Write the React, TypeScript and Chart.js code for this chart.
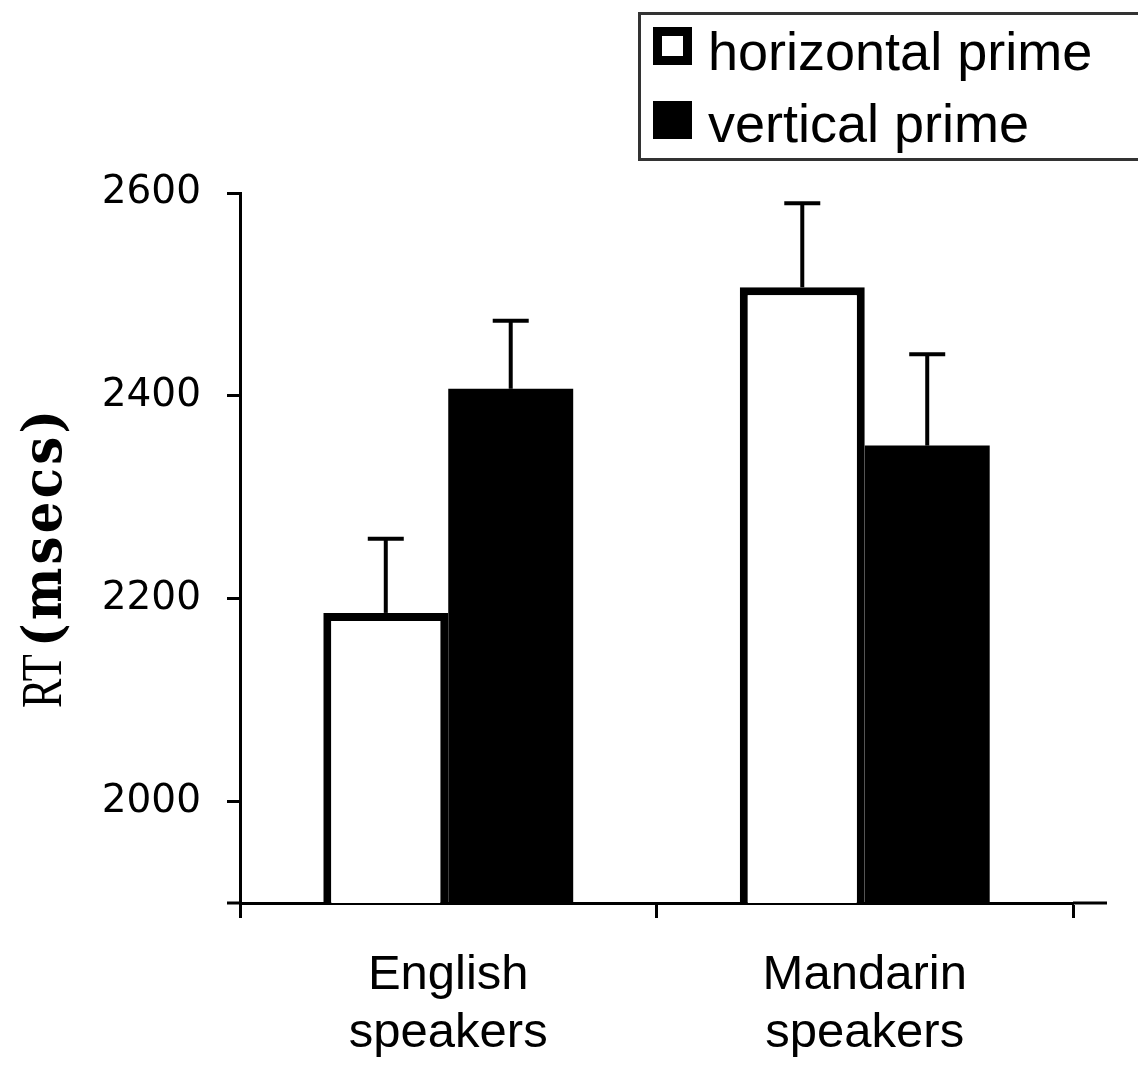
import { useEffect, useRef } from "react";
import { Chart, registerables } from "chart.js";

Chart.register(...registerables);

// ---- data ----
const CATEGORIES: string[][] = [["English", "speakers"], ["Mandarin", "speakers"]];
const SERIES_LABELS = ["horizontal prime", "vertical prime"];
const HORIZONTAL_MEANS = [2186, 2507];
const VERTICAL_MEANS = [2407, 2351];
const HORIZONTAL_ERRORS = [73, 83];
const VERTICAL_ERRORS = [67, 90];
const Y_TICKS = [2000, 2200, 2400, 2600];
const Y_MIN = 1900;
const Y_MAX = 2600;
const Y_TITLE_MAIN = "RT";
const Y_TITLE_UNIT = "(msecs)";

const W = 1138;
const H = 1069;

const errorBarPlugin = {
  id: "errorBars",
  afterDatasetsDraw(chart: any) {
    const ctx = chart.ctx;
    const y = chart.scales.y;
    chart.data.datasets.forEach((ds: any, di: number) => {
      const meta = chart.getDatasetMeta(di);
      meta.data.forEach((bar: any, i: number) => {
        const v = ds.data[i];
        const e = ds.errors[i];
        const x = bar.x;
        const yBase = y.getPixelForValue(v);
        const yTop = y.getPixelForValue(v + e);
        ctx.save();
        ctx.strokeStyle = "#000";
        ctx.lineWidth = 4;
        ctx.beginPath();
        ctx.moveTo(x, yBase);
        ctx.lineTo(x, yTop);
        ctx.stroke();
        ctx.beginPath();
        ctx.moveTo(x - 18, yTop);
        ctx.lineTo(x + 18, yTop);
        ctx.stroke();
        ctx.restore();
      });
    });
  },
};

const decorPlugin = {
  id: "decor",
  afterDraw(chart: any) {
    const ctx = chart.ctx;
    const area = chart.chartArea;
    ctx.save();
    // axis extensions
    ctx.strokeStyle = "#000";
    ctx.lineWidth = 3;
    ctx.beginPath();
    ctx.moveTo(227, area.bottom);
    ctx.lineTo(area.left, area.bottom);
    ctx.moveTo(area.right, area.bottom);
    ctx.lineTo(1107, area.bottom);
    ctx.stroke();

    // legend
    ctx.strokeStyle = "#333";
    ctx.lineWidth = 3;
    ctx.strokeRect(639.5, 13.5, 560, 146);
    chart.data.datasets.forEach((ds: any, i: number) => {
      const bx = 653;
      const by = 27 + 74 * i;
      ctx.fillStyle = "#000";
      ctx.fillRect(bx, by, 39, 38);
      if (ds.backgroundColor === "#fff") {
        ctx.fillStyle = "#fff";
        ctx.fillRect(bx + 9, by + 9, 21, 20);
      }
      ctx.fillStyle = "#000";
      ctx.font = "54px 'Liberation Sans', Arial, sans-serif";
      ctx.textAlign = "left";
      ctx.textBaseline = "alphabetic";
      ctx.fillText(ds.label, 708, 70 + 72 * i);
    });

    // y-axis title
    ctx.translate(61, 708);
    ctx.rotate(-Math.PI / 2);
    ctx.fillStyle = "#000";
    ctx.textBaseline = "alphabetic";
    ctx.textAlign = "left";
    ctx.save();
    ctx.scale(0.76, 1);
    ctx.font = "58px 'Liberation Serif', 'Times New Roman', serif";
    ctx.fillText(Y_TITLE_MAIN, 0, 0);
    ctx.restore();

    ctx.font = "bold 54px 'DejaVu Serif', serif";
    const sx = 0.92;
    const chars = Y_TITLE_UNIT.split("");
    const widths = chars.map((c) => ctx.measureText(c).width * sx);
    const natural = widths.reduce((a, b) => a + b, 0);
    const total = 237;
    const gap = Math.max(0, (total - natural) / (chars.length - 1));
    let pos = 61;
    chars.forEach((c, k) => {
      ctx.save();
      ctx.translate(pos, 0);
      ctx.scale(sx, 1);
      ctx.fillText(c, 0, 0);
      ctx.restore();
      pos += widths[k] + gap;
    });
    ctx.restore();
  },
};

export default function App() {
  const ref = useRef<HTMLCanvasElement | null>(null);

  useEffect(() => {
    document.body.style.margin = "0";
    const canvas = ref.current;
    if (!canvas) return;
    const chart = new Chart(canvas, {
      type: "bar",
      data: {
        labels: CATEGORIES,
        datasets: [
          {
            label: SERIES_LABELS[0],
            data: HORIZONTAL_MEANS,
            backgroundColor: "#fff",
            borderColor: "#000",
            borderWidth: 8,
            borderSkipped: "start",
            errors: HORIZONTAL_ERRORS,
          } as any,
          {
            label: SERIES_LABELS[1],
            data: VERTICAL_MEANS,
            backgroundColor: "#000",
            borderColor: "#000",
            borderWidth: 0,
            errors: VERTICAL_ERRORS,
          } as any,
        ],
      },
      options: {
        responsive: false,
        animation: false,
        maintainAspectRatio: false,
        layout: { padding: { left: 0, top: 193, right: W - 1073, bottom: 0 } },
        datasets: {
          bar: { categoryPercentage: 0.6, barPercentage: 1.0 },
        },
        plugins: {
          legend: { display: false },
          tooltip: { enabled: false },
        },
        scales: {
          x: {
            type: "category",
            grid: {
              offset: true,
              drawOnChartArea: false,
              drawTicks: true,
              tickLength: 15,
              tickWidth: 3,
              tickColor: "#000",
            },
            border: { display: true, color: "#000", width: 3 },
            ticks: {
              color: "#000",
              padding: 29,
              maxRotation: 0,
              font: { family: "'Liberation Sans', Arial, sans-serif", size: 49, lineHeight: 1.18 },
            },
            afterFit: (scale: any) => {
              scale.height = H - 903;
            },
          },
          y: {
            type: "linear",
            min: Y_MIN,
            max: Y_MAX,
            afterBuildTicks: (axis: any) => {
              axis.ticks = Y_TICKS.map((v) => ({ value: v }));
            },
            grid: {
              drawOnChartArea: false,
              drawTicks: true,
              tickLength: 13,
              tickWidth: 3,
              tickColor: "#000",
            },
            border: { display: true, color: "#000", width: 3 },
            ticks: {
              color: "#000",
              padding: 26,
              font: { family: "'DejaVu Sans', Verdana, sans-serif", size: 39 },
              callback: (v: any) => String(v),
            },
            afterFit: (scale: any) => {
              scale.width = 240;
            },
          },
        },
      },
      plugins: [errorBarPlugin, decorPlugin],
    });
    return () => chart.destroy();
  }, []);

  return (
    <div style={{ width: W, height: H, background: "#fff" }}>
      <canvas ref={ref} width={W} height={H} style={{ display: "block" }} />
    </div>
  );
}
